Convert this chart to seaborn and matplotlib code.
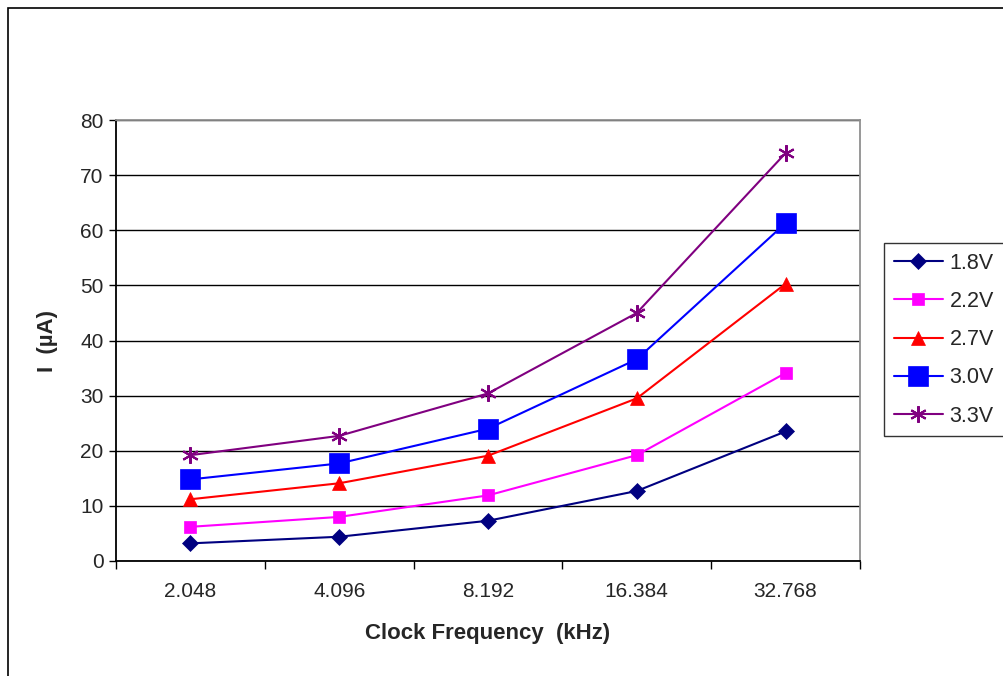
import matplotlib
matplotlib.use("Agg")
import matplotlib.pyplot as plt
import matplotlib.patches as patches
import pandas as pd
import seaborn as sns

sns.set_style("white")
plt.rcParams['font.family'] = ['Liberation Sans', 'DejaVu Sans']

freqs = ["2.048", "4.096", "8.192", "16.384", "32.768"]
series_names = ["1.8V", "2.2V", "2.7V", "3.0V", "3.3V"]
i_18 = [3.2, 4.4, 7.3, 12.7, 23.5]
i_22 = [6.2, 8.0, 11.9, 19.2, 34.1]
i_27 = [11.2, 14.1, 19.1, 29.5, 50.3]
i_30 = [14.8, 17.7, 24.0, 36.6, 61.3]
i_33 = [19.2, 22.7, 30.4, 45.0, 74.0]

colors = ["#000080", "#FF00FF", "#FF0000", "#0000FF", "#800080"]
markers = ["D", "s", "^", "s", (6, 2, 0)]
msizes = [8, 9, 10, 14.5, 12]

df = pd.DataFrame({
    "freq": freqs * 5,
    "current": i_18 + i_22 + i_27 + i_30 + i_33,
    "supply": [s for s in series_names for _ in freqs],
})

fig = plt.figure(figsize=(10.04, 6.76), dpi=100)
ax = fig.add_axes([116 / 1004, 1 - 561 / 676, (860 - 116) / 1004, (561 - 120) / 676])

for name, col, mk, ms in zip(series_names, colors, markers, msizes):
    sub = df[df["supply"] == name]
    sns.lineplot(data=sub, x="freq", y="current", ax=ax, color=col, marker=mk,
                 markersize=ms, markeredgecolor=col, markeredgewidth=1.5 if name == "3.3V" else 0.5,
                 linewidth=1.5, label=name, sort=False)

ax.set_ylim(0, 80)
ax.set_yticks(range(0, 81, 10))
ax.set_xlim(-0.5, 4.5)
ax.set_xticks([x - 0.5 for x in range(6)])
ax.set_xticklabels([])
ax.set_xticks(range(5), minor=True)
ax.set_xticklabels(freqs, minor=True)
ax.tick_params(axis="x", which="major", length=6, width=1, color="black", direction="out", bottom=True)
ax.tick_params(axis="x", which="minor", length=0, pad=15, labelsize=15)
ax.tick_params(axis="y", length=5, width=1, color="black", direction="out", left=True, labelsize=15, pad=4)

ax.yaxis.grid(True, color="black", linewidth=1)
ax.xaxis.grid(False)
ax.set_axisbelow(True)
for side in ["left", "bottom"]:
    ax.spines[side].set_color("black")
    ax.spines[side].set_linewidth(1.3)
for side in ["top", "right"]:
    ax.spines[side].set_color("#909090")
    ax.spines[side].set_linewidth(1.3)

ax.set_xlabel("Clock Frequency  (kHz)", fontsize=16, fontweight="bold", labelpad=16)
ax.set_ylabel("I  (\u00b5A)", fontsize=16, fontweight="bold", labelpad=16)

leg = ax.legend(loc="upper left", bbox_to_anchor=(884 / 1004, 1 - 243 / 676),
                bbox_transform=fig.transFigure, fontsize=15.5, frameon=True,
                fancybox=False, borderaxespad=0, handlelength=2.3,
                labelspacing=0.8, borderpad=0.45, handletextpad=0.3)
leg.get_frame().set_edgecolor("black")
leg.get_frame().set_linewidth(1)

fig.patches.append(patches.Rectangle((8 / 1004, -0.1), 1.2, 1.1 - 8 / 676,
                                     transform=fig.transFigure, fill=False,
                                     edgecolor="black", linewidth=1.2))

fig.savefig("out.png", dpi=100)
